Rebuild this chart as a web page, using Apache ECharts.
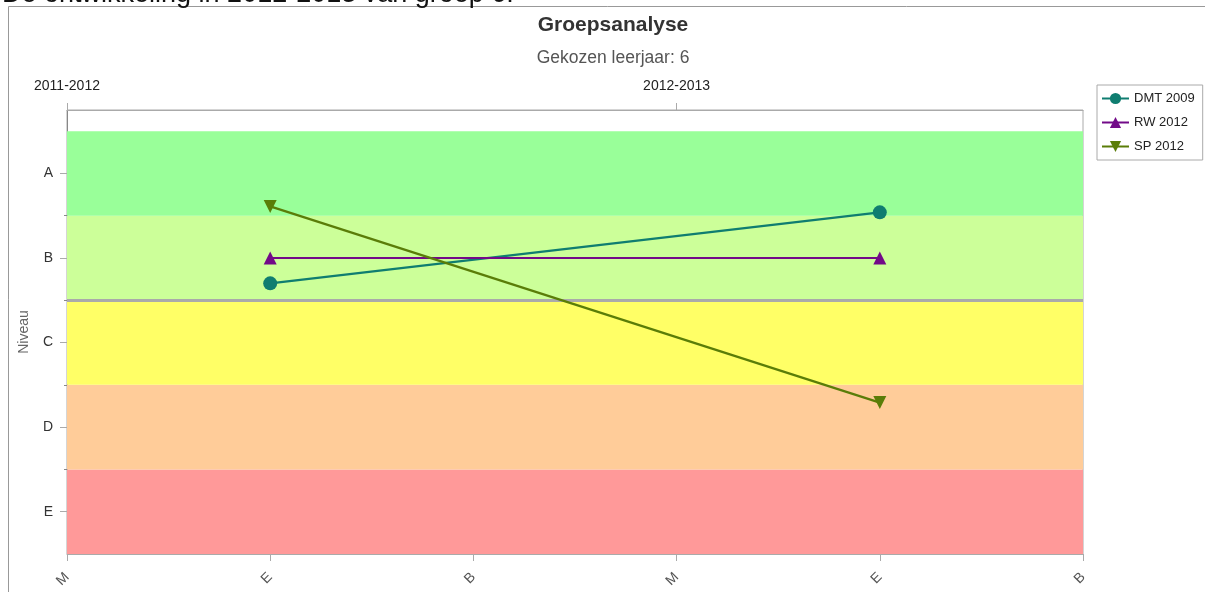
<!DOCTYPE html>
<html>
<head>
<meta charset="utf-8">
<style>
  html, body { margin: 0; padding: 0; background: #fff; }
  #main { width: 1205px; height: 592px; }
</style>
<script src="https://cdn.jsdelivr.net/npm/echarts@6/dist/echarts.min.js"></script>
</head>
<body>
<div id="main"></div>
<script>
// meetmomenten (onder) en schooljaren (boven)
var momenten = ['M', 'E', 'B', 'M', 'E', 'B'];
var schooljaren = ['2011-2012', '', '', '2012-2013', '', ''];
var niveaus = ['E', 'D', 'C', 'B', 'A'];

// niveau per toets, 1 = E ... 5 = A
var dmt2009 = [null, 3.7, null, null, 4.54, null];
var rw2012 = [null, 4.0, null, null, 4.0, null];
var sp2012 = [null, 4.61, null, null, 2.29, null];

var bandKleuren = ['#FF9999', '#FFCC99', '#FFFF66', '#CCFF99', '#99FF99'];
var font = 'Liberation Sans, Arial, sans-serif';

var chart = echarts.init(document.getElementById('main'));

var banden = niveaus.map(function (n, i) {
    return [
        { yAxis: i + 0.5, itemStyle: { color: bandKleuren[i] } },
        { yAxis: i + 1.5 }
    ];
});

function lijn(naam, data, kleur, symbool, rotatie, grootte) {
    return {
        name: naam,
        type: 'line',
        data: data,
        connectNulls: true,
        symbol: symbool,
        symbolSize: grootte,
        symbolRotate: rotatie,
        z: 5,
        color: kleur,
        lineStyle: { width: 2.2, color: kleur },
        itemStyle: { color: kleur },
        animation: false
    };
}

chart.setOption({
    animation: false,
    textStyle: { fontFamily: font },
    grid: {
        left: 67, top: 110, right: 122, bottom: 38,
        show: true, borderColor: '#aaa', borderWidth: 1
    },
    legend: {
        orient: 'vertical',
        left: 1097, top: 85,
        borderColor: '#aaa', borderWidth: 1,
        padding: [7, 8, 7, 4],
        itemGap: 11, itemWidth: 27, itemHeight: 14,
        textStyle: { fontSize: 13, color: '#222', fontFamily: font },
        data: ['DMT 2009', 'RW 2012', 'SP 2012']
    },
    xAxis: [
        {
            type: 'category', position: 'bottom', boundaryGap: false,
            data: momenten,
            axisLine: { lineStyle: { color: '#aaa' } },
            axisTick: { length: 7, lineStyle: { color: '#aaa' } },
            axisLabel: { rotate: 45, margin: 21, fontSize: 14, color: '#555', interval: 0 },
            splitLine: { show: false }
        },
        {
            type: 'category', position: 'top', boundaryGap: false,
            data: schooljaren,
            axisLine: { lineStyle: { color: '#aaa' } },
            axisTick: { length: 7, interval: function (i) { return i % 3 === 0; }, lineStyle: { color: '#aaa' } },
            axisLabel: { margin: 17, fontSize: 14, color: '#222', interval: function (i) { return i % 3 === 0; } },
            splitLine: { show: false }
        }
    ],
    yAxis: [
        {
            type: 'value', min: 0.5, max: 5.75, interval: 0.5,
            name: 'Niveau', nameLocation: 'middle', nameGap: 36, nameRotate: 90,
            nameTextStyle: { fontSize: 14, color: '#666' },
            axisLine: { show: true, lineStyle: { color: '#888' } },
            axisTick: { show: true, length: 7, customValues: [1, 2, 3, 4, 5], lineStyle: { color: '#aaa' } },
            axisLabel: {
                margin: 14, fontSize: 14, color: '#333',
                customValues: [1, 2, 3, 4, 5],
                formatter: function (v) { return niveaus[Math.round(v) - 1] || ''; }
            },
            splitLine: { show: false }
        },
        {
            type: 'value', min: 0.5, max: 5.75, interval: 0.5, position: 'left',
            axisLine: { show: false },
            axisTick: { show: true, length: 3, customValues: [1.5, 2.5, 3.5, 4.5], lineStyle: { color: '#888' } },
            axisLabel: { show: false },
            splitLine: { show: false }
        }
    ],
    series: [
        {
            name: 'banden', type: 'line', data: [], z: 1,
            markArea: { silent: true, data: banden },
            markLine: {
                silent: true, symbol: 'none', label: { show: false },
                lineStyle: { color: '#aaaaaa', width: 3, type: 'solid' },
                data: [{ yAxis: 3.5 }]
            }
        },
        lijn('DMT 2009', dmt2009, '#0F7D70', 'circle', 0, 14),
        lijn('RW 2012', rw2012, '#720A88', 'triangle', 0, 13),
        lijn('SP 2012', sp2012, '#5A7D08', 'triangle', 180, 13)
    ],
    graphic: [
        {
            type: 'rect', silent: true, z: 0,
            shape: { x: 8.5, y: 6.5, width: 1400, height: 700 },
            style: { fill: null, stroke: '#999', lineWidth: 1 }
        },
        {
            type: 'text', left: 2, top: -19, silent: true,
            style: { text: 'De ontwikkeling in 2012-2013 van groep 6.', font: '27px ' + font, fill: '#111' }
        },
        {
            type: 'text', x: 613, y: 25, silent: true,
            style: { text: 'Groepsanalyse', font: 'bold 21px ' + font, fill: '#333', align: 'center', verticalAlign: 'middle' }
        },
        {
            type: 'text', x: 613, y: 58, silent: true,
            style: { text: 'Gekozen leerjaar: 6', font: '17.5px ' + font, fill: '#555', align: 'center', verticalAlign: 'middle' }
        }
    ]
});
</script>
</body>
</html>
